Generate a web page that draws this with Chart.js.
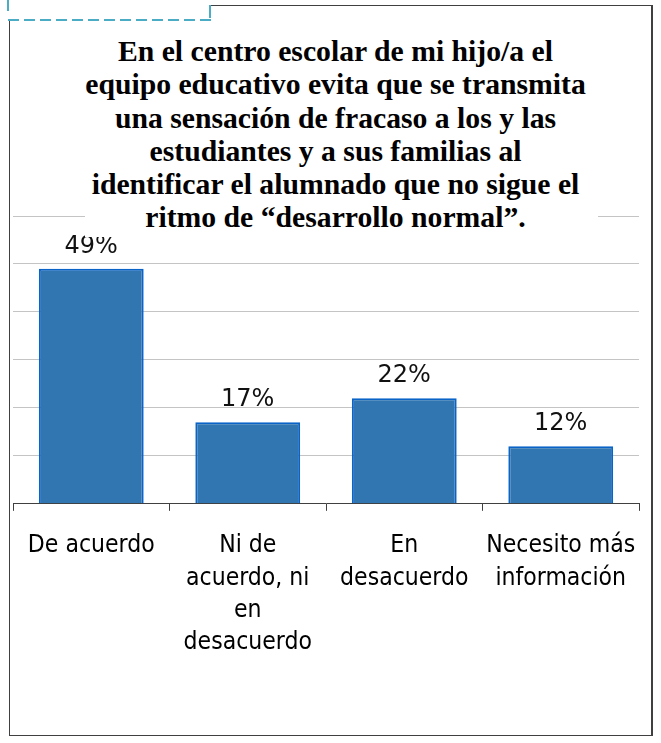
<!DOCTYPE html>
<html lang="es">
<head>
    <meta charset="UTF-8">
    <title>Evita sensación de fracaso</title>
    <script src="https://cdn.jsdelivr.net/npm/chart.js"></script>
    <style>
        body {
            margin: 0;
            background: #fff;
            width: 661px;
            height: 743px;
            position: relative;
            overflow: hidden;
        }
        #grafico {
            position: absolute;
            left: 0;
            top: 0;
        }
        .borde {
            position: absolute;
            background: #404040;
        }
        .guion {
            position: absolute;
            background: repeating-linear-gradient(90deg, #4BACC6 0 11px, transparent 11px 16px);
        }
        .guion-v {
            position: absolute;
            background: #4BACC6;
            width: 2px;
        }
        #titulo {
            position: absolute;
            left: 85px;
            top: 35px;
            width: 501px;
            padding-right: 12px;
            padding-bottom: 2px;
            background: #fff;
            text-align: center;
            font-family: 'Liberation Serif', 'Times New Roman', serif;
            font-weight: bold;
            font-size: 29.7px;
            line-height: 33.3px;
            color: #000;
        }
    </style>
</head>
<body>
    <canvas id="grafico" width="661" height="743"></canvas>

    <!-- marco -->
    <div class="borde" style="left:9px; top:20px; width:1px; height:716px;"></div>
    <div class="borde" style="left:211px; top:5px; width:441px; height:1px;"></div>
    <div class="borde" style="left:651px; top:5px; width:2px; height:731px;"></div>
    <div class="borde" style="left:9px; top:735px; width:644px; height:1px;"></div>
    <div class="guion" style="left:8px; top:19px; width:203px; height:2px;"></div>
    <div class="guion-v" style="left:7px; top:0px; height:11px;"></div>
    <div class="guion-v" style="left:209px; top:5px; height:13px;"></div>

    <div id="titulo">En el centro escolar de mi hijo/a el<br>equipo educativo evita que se transmita<br>una sensación de fracaso a los y las<br>estudiantes y a sus familias al<br>identificar el alumnado que no sigue el<br>ritmo de “desarrollo normal”.</div>

    <script>
        const categorias = [
            ['De acuerdo'],
            ['Ni de', 'acuerdo, ni', 'en', 'desacuerdo'],
            ['En', 'desacuerdo'],
            ['Necesito más', 'información']
        ];
        const porcentajes = [49, 17, 22, 12];

        // etiquetas de porcentaje encima de cada barra
        const etiquetasBarras = {
            id: 'etiquetasBarras',
            afterDatasetsDraw(chart) {
                const ctx = chart.ctx;
                const meta = chart.getDatasetMeta(0);
                ctx.save();
                ctx.font = "24px 'DejaVu Sans', sans-serif";
                ctx.fillStyle = '#111';
                ctx.textAlign = 'center';
                ctx.textBaseline = 'alphabetic';
                meta.data.forEach((bar, i) => {
                    ctx.fillText(porcentajes[i] + '%', bar.x, bar.y - 16);
                });
                ctx.restore();
            }
        };

        const ctx = document.getElementById('grafico').getContext('2d');
        new Chart(ctx, {
            type: 'bar',
            data: {
                labels: categorias,
                datasets: [{
                    data: porcentajes,
                    backgroundColor: '#3175B1',
                    borderColor: '#0A64C8',
                    borderWidth: 2,
                    categoryPercentage: 1,
                    barPercentage: 0.67
                }]
            },
            options: {
                responsive: false,
                animation: false,
                layout: {
                    padding: { top: 216, left: 13, right: 22, bottom: 65 }
                },
                plugins: {
                    legend: { display: false },
                    tooltip: { enabled: false }
                },
                scales: {
                    x: {
                        grid: {
                            drawOnChartArea: false,
                            drawTicks: true,
                            tickLength: 7,
                            color: '#404040'
                        },
                        border: { display: true, color: '#404040', width: 1 },
                        ticks: {
                            color: '#000',
                            padding: 19,
                            maxRotation: 0,
                            autoSkip: false,
                            font: {
                                family: "'DejaVu Sans Condensed', 'DejaVu Sans', sans-serif",
                                size: 24.5,
                                lineHeight: 1.318
                            }
                        }
                    },
                    y: {
                        min: 0,
                        max: 60,
                        ticks: { display: false, stepSize: 10 },
                        grid: { drawTicks: false, color: '#C4C4C4' },
                        border: { display: false }
                    }
                }
            },
            plugins: [etiquetasBarras]
        });
    </script>
</body>
</html>
